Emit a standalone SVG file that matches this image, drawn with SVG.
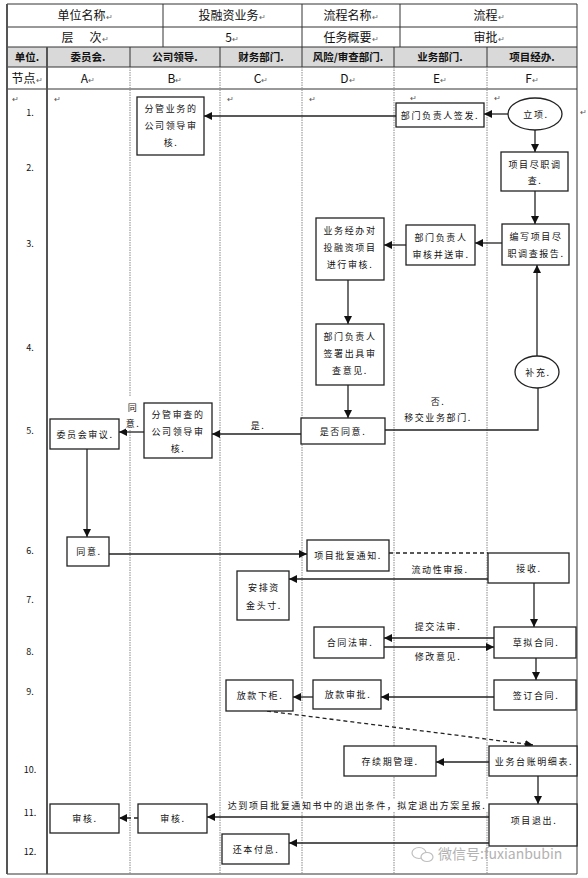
<svg xmlns="http://www.w3.org/2000/svg" width="588" height="878" viewBox="0 0 588 878">
<style>
text{font-family:"Noto Sans CJK SC","Liberation Sans",sans-serif;fill:#111;text-anchor:middle}
.h{font-size:12px}
.hb{font-size:10.5px;font-weight:bold}
.n{font-size:9px;letter-spacing:1.6px}
.num{font-size:9px}
.rm{font-size:8px;fill:#555;text-anchor:start}
.box{fill:#fff;stroke:#222;stroke-width:1.3}
.ln{fill:none;stroke:#222;stroke-width:1.3}
.dash{fill:none;stroke:#222;stroke-width:1.3;stroke-dasharray:4 3}
.lane{stroke:#888;stroke-width:1;stroke-dasharray:1.5 1}
.grid{stroke:#333;stroke-width:1}
.thick{stroke:#555;stroke-width:2}
</style>
<defs>
<marker id="ar" markerUnits="userSpaceOnUse" markerWidth="9" markerHeight="9" refX="8" refY="4" orient="auto">
<path d="M0,0 L8,4 L0,8 z" fill="#111"/>
</marker>
</defs>
<rect width="588" height="878" fill="#fff"/>
<g id="table">
<rect x="7" y="47" width="570" height="20" fill="#d9d9d9"/>
<line class="grid" x1="7" y1="4" x2="577" y2="4"/>
<line class="grid" x1="7" y1="27" x2="577" y2="27"/>
<line class="grid" x1="7" y1="47" x2="577" y2="47"/>
<line class="grid" x1="7" y1="67" x2="577" y2="67"/>
<line class="grid" x1="7" y1="89" x2="577" y2="89"/>
<line class="grid" x1="7" y1="874" x2="577" y2="874"/>
<line class="thick" x1="7" y1="4" x2="7" y2="874"/>
<line class="grid" x1="577" y1="4" x2="577" y2="874"/>
<line class="grid" x1="163" y1="4" x2="163" y2="47"/>
<line class="grid" x1="302" y1="4" x2="302" y2="47"/>
<line class="grid" x1="400" y1="4" x2="400" y2="47"/>
<line class="thick" x1="47" y1="47" x2="47" y2="874"/>
<line class="grid" x1="130" y1="47" x2="130" y2="67"/>
<line class="grid" x1="220" y1="47" x2="220" y2="67"/>
<line class="grid" x1="302" y1="47" x2="302" y2="67"/>
<line class="grid" x1="394" y1="47" x2="394" y2="67"/>
<line class="grid" x1="487" y1="47" x2="487" y2="67"/>
<line class="lane" x1="130" y1="67" x2="130" y2="874"/>
<line class="lane" x1="220" y1="67" x2="220" y2="874"/>
<line class="lane" x1="302" y1="67" x2="302" y2="874"/>
<line class="lane" x1="394" y1="67" x2="394" y2="874"/>
<line class="lane" x1="487" y1="67" x2="487" y2="874"/>
<text class="h" x="85" y="20">单位名称<tspan font-size="8" fill="#666">↵</tspan></text>
<text class="h" x="232" y="20">投融资业务<tspan font-size="8" fill="#666">↵</tspan></text>
<text class="h" x="351" y="20">流程名称<tspan font-size="8" fill="#666">↵</tspan></text>
<text class="h" x="489" y="20">流程<tspan font-size="8" fill="#666">↵</tspan></text>
<text class="h" x="85" y="42" xml:space="preserve">层      次<tspan font-size="8" fill="#666">↵</tspan></text>
<text class="h" x="232" y="42">5<tspan font-size="8" fill="#666">↵</tspan></text>
<text class="h" x="351" y="42">任务概要<tspan font-size="8" fill="#666">↵</tspan></text>
<text class="h" x="489" y="42">审批<tspan font-size="8" fill="#666">↵</tspan></text>
<text class="hb" x="27" y="61">单位.</text>
<text class="hb" x="88" y="61">委员会.</text>
<text class="hb" x="175" y="61">公司领导.</text>
<text class="hb" x="261" y="61">财务部门.</text>
<text class="hb" x="348" y="61">风险/审查部门.</text>
<text class="hb" x="440" y="61">业务部门.</text>
<text class="hb" x="532" y="61">项目经办.</text>
<text class="h" x="27" y="83">节点<tspan font-size="8" fill="#666">↵</tspan></text>
<text class="h" x="88" y="83">A<tspan font-size="8" fill="#666">↵</tspan></text>
<text class="h" x="175" y="83">B<tspan font-size="8" fill="#666">↵</tspan></text>
<text class="h" x="261" y="83">C<tspan font-size="8" fill="#666">↵</tspan></text>
<text class="h" x="348" y="83">D<tspan font-size="8" fill="#666">↵</tspan></text>
<text class="h" x="440" y="83">E<tspan font-size="8" fill="#666">↵</tspan></text>
<text class="h" x="532" y="83">F<tspan font-size="8" fill="#666">↵</tspan></text>
<text class="rm" x="12" y="102">↵</text>
<text class="rm" x="54" y="102">↵</text>
<text class="rm" x="227" y="102">↵</text>
<text class="rm" x="309" y="102">↵</text>
<text class="rm" x="410" y="101">↵</text>
<text class="rm" x="494" y="101">↵</text>
<text class="rm" x="580" y="115">↵</text>
<text class="num" x="30" y="116">1.</text>
<text class="num" x="30" y="171">2.</text>
<text class="num" x="30" y="247">3.</text>
<text class="num" x="30" y="351">4.</text>
<text class="num" x="30" y="434">5.</text>
<text class="num" x="30" y="554">6.</text>
<text class="num" x="30" y="603">7.</text>
<text class="num" x="30" y="655">8.</text>
<text class="num" x="30" y="695">9.</text>
<text class="num" x="30" y="773">10.</text>
<text class="num" x="30" y="816">11.</text>
<text class="num" x="30" y="855">12.</text>
</g>
<g id="connectors">
<path class="ln" d="M396,116 L204,116" marker-end="url(#ar)"/>
<path class="ln" d="M508,114 L484,114" marker-end="url(#ar)"/>
<path class="ln" d="M535,130 L535,152" marker-end="url(#ar)"/>
<path class="ln" d="M535,191 L535,224" marker-end="url(#ar)"/>
<path class="ln" d="M502,243 L475,243" marker-end="url(#ar)"/>
<path class="ln" d="M406,245 L384,245" marker-end="url(#ar)"/>
<path class="ln" d="M348,280 L348,324" marker-end="url(#ar)"/>
<path class="ln" d="M537,356 L537,265" marker-end="url(#ar)"/>
<path class="ln" d="M348,385 L348,418" marker-end="url(#ar)"/>
<path class="ln" d="M385,430 L538,430 L538,388"/>
<text class="n" x="438" y="405">否.</text>
<text class="n" x="438" y="421">移交业务部门.</text>
<path class="ln" d="M301,434 L212,434" marker-end="url(#ar)"/>
<text class="n" x="258" y="429">是.</text>
<path class="ln" d="M144,432 L119,432" marker-end="url(#ar)"/>
<rect x="126" y="397" width="13" height="33" fill="#fff"/>
<text class="n" x="133" y="411">同</text>
<text class="n" x="133" y="427">意.</text>
<path class="ln" d="M87,449 L87,537" marker-end="url(#ar)"/>
<path class="ln" d="M109,554 L307,554" marker-end="url(#ar)"/>
<path class="dash" d="M389,553 L488,553"/>
<path class="ln" d="M488,579 L289,579" marker-end="url(#ar)"/>
<text class="n" x="440" y="573">流动性审报.</text>
<path class="ln" d="M534,583 L534,627" marker-end="url(#ar)"/>
<path class="ln" d="M494,638 L384,638" marker-end="url(#ar)"/>
<text class="n" x="438" y="630">提交法审.</text>
<path class="ln" d="M384,647 L494,647" marker-end="url(#ar)"/>
<text class="n" x="438" y="660">修改意见.</text>
<path class="ln" d="M536,658 L536,680" marker-end="url(#ar)"/>
<path class="ln" d="M494,697 L381,697" marker-end="url(#ar)"/>
<path class="ln" d="M313,697 L293,697" marker-end="url(#ar)"/>
<path class="dash" d="M267,711 L533,745" marker-end="url(#ar)"/>
<path class="ln" d="M489,762 L436,762" marker-end="url(#ar)"/>
<path class="ln" d="M538,776 L538,804" marker-end="url(#ar)"/>
<rect x="226" y="799" width="262" height="13" fill="#fff"/>
<text class="n" x="357" y="809" font-size="8.5" letter-spacing="1.2">达到项目批复通知书中的退出条件，拟定退出方案呈报.</text>
<path class="ln" d="M489,817 L207,817" marker-end="url(#ar)"/>
<path class="ln" d="M489,843 L289,843" marker-end="url(#ar)"/>
<path class="dash" d="M138,818 L119,818" marker-end="url(#ar)"/>
</g>
<g id="n_B1"><rect class="box" x="137" y="97" width="67" height="58"/><text class="n" x="171" y="112">分管业务的</text><text class="n" x="171" y="129">公司领导审</text><text class="n" x="171" y="146">核.</text></g>
<g id="n_E1"><rect class="box" x="396" y="103" width="88" height="24"/><text class="n" x="440" y="119">部门负责人签发.</text></g>
<g id="n_F1"><ellipse class="box" cx="535" cy="114" rx="27" ry="16"/><text class="n" x="536" y="118">立项.</text></g>
<g id="n_F2"><rect class="box" x="501" y="152" width="67" height="39"/><text class="n" x="535" y="168">项目尽职调</text><text class="n" x="535" y="184">查.</text></g>
<g id="n_F3"><rect class="box" x="502" y="224" width="67" height="41"/><text class="n" x="536" y="240">编写项目尽</text><text class="n" x="536" y="257">职调查报告.</text></g>
<g id="n_E3"><rect class="box" x="406" y="225" width="69" height="40"/><text class="n" x="441" y="241">部门负责人</text><text class="n" x="441" y="258">审核并送审.</text></g>
<g id="n_D3"><rect class="box" x="316" y="218" width="68" height="62"/><text class="n" x="350" y="234">业务经办对</text><text class="n" x="350" y="251">投融资项目</text><text class="n" x="350" y="268">进行审核.</text></g>
<g id="n_D4"><rect class="box" x="316" y="324" width="68" height="61"/><text class="n" x="350" y="340">部门负责人</text><text class="n" x="350" y="357">签署出具审</text><text class="n" x="350" y="374">查意见.</text></g>
<g id="n_F4"><ellipse class="box" cx="537" cy="372" rx="22" ry="16"/><text class="n" x="538" y="376">补充.</text></g>
<g id="n_D5"><rect class="box" x="301" y="418" width="84" height="26"/><text class="n" x="343" y="435">是否同意.</text></g>
<g id="n_B5"><rect class="box" x="144" y="403" width="68" height="55"/><text class="n" x="178" y="418">分管审查的</text><text class="n" x="178" y="435">公司领导审</text><text class="n" x="178" y="452">核.</text></g>
<g id="n_A5"><rect class="box" x="50" y="419" width="69" height="30"/><text class="n" x="85" y="438">委员会审议.</text></g>
<g id="n_A6"><rect class="box" x="67" y="537" width="42" height="29"/><text class="n" x="89" y="555">同意.</text></g>
<g id="n_D6"><rect class="box" x="307" y="540" width="82" height="31"/><text class="n" x="348" y="559">项目批复通知.</text></g>
<g id="n_F6"><rect class="box" x="488" y="553" width="81" height="30"/><text class="n" x="529" y="572">接收.</text></g>
<g id="n_C7"><rect class="box" x="237" y="571" width="52" height="49"/><text class="n" x="264" y="591">安排资</text><text class="n" x="264" y="609">金头寸.</text></g>
<g id="n_F8"><rect class="box" x="494" y="627" width="82" height="31"/><text class="n" x="536" y="646">草拟合同.</text></g>
<g id="n_D8"><rect class="box" x="314" y="627" width="70" height="31"/><text class="n" x="350" y="646">合同法审.</text></g>
<g id="n_F9"><rect class="box" x="494" y="680" width="82" height="30"/><text class="n" x="536" y="699">签订合同.</text></g>
<g id="n_D9"><rect class="box" x="313" y="680" width="68" height="29"/><text class="n" x="348" y="698">放款审批.</text></g>
<g id="n_C9"><rect class="box" x="226" y="680" width="67" height="31"/><text class="n" x="260" y="699">放款下柜.</text></g>
<g id="n_F10"><rect class="box" x="489" y="746" width="88" height="30"/><text class="n" x="534" y="765">业务台账明细表.</text></g>
<g id="n_D10"><rect class="box" x="344" y="746" width="92" height="30"/><text class="n" x="390" y="765">存续期管理.</text></g>
<g id="n_F11"><rect class="box" x="489" y="804" width="88" height="42"/><text class="n" x="534" y="824">项目退出.</text></g>
<g id="n_B11"><rect class="box" x="138" y="804" width="69" height="29"/><text class="n" x="173" y="822">审核.</text></g>
<g id="n_A11"><rect class="box" x="50" y="804" width="69" height="29"/><text class="n" x="85" y="822">审核.</text></g>
<g id="n_C12"><rect class="box" x="222" y="834" width="67" height="30"/><text class="n" x="256" y="853">还本付息.</text></g>
<g id="watermark" opacity="0.75">
<ellipse cx="419" cy="853" rx="7" ry="5.5" fill="none" stroke="#aaa" stroke-width="1.2"/>
<ellipse cx="427" cy="857" rx="6" ry="4.5" fill="#fff" stroke="#aaa" stroke-width="1.2"/>
<text x="438" y="859" style="font-size:14px;fill:#999;text-anchor:start">微信号:fuxianbubin</text>
</g>
</svg>
